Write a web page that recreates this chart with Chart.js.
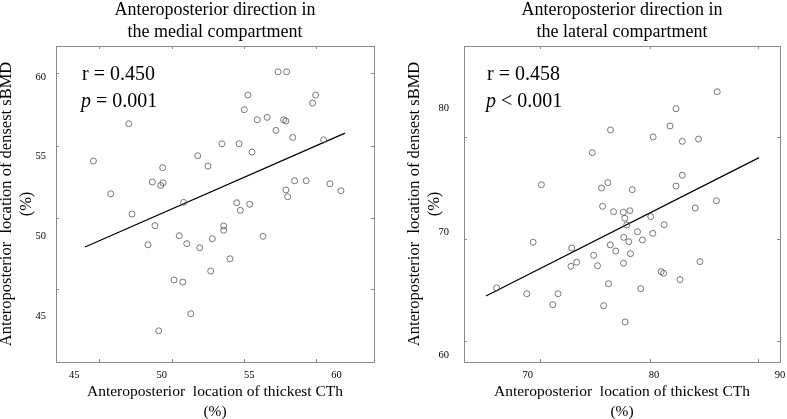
<!DOCTYPE html>
<html>
<head>
<meta charset="utf-8">
<script src="https://cdn.jsdelivr.net/npm/chart.js@4.4.1/dist/chart.umd.min.js"></script>
<style>
  html, body { margin: 0; padding: 0; background: #fff; }
  .wrap { position: relative; width: 787px; height: 419px; overflow: hidden; }
  #medial { position: absolute; left: 0; top: 0; }
  #lateral { position: absolute; left: 393px; top: 0; }
</style>
</head>
<body>
<div class="wrap">
  <canvas id="medial" width="393" height="419"></canvas>
  <canvas id="lateral" width="394" height="419"></canvas>
</div>
<script>
// medial compartment: thickest CTh (x) vs densest sBMD (y), both in %
const medialCTh = [46.09, 47.08, 48.11, 48.30, 49.21, 49.46, 49.61, 49.94, 50.05, 50.07,
  50.70, 51.00, 51.20, 51.25, 51.43, 52.06, 52.17, 52.64, 52.80, 52.89,
  53.44, 53.54, 53.54, 53.90, 54.29, 54.42, 54.49, 54.72, 54.93, 55.03,
  55.16, 55.46, 55.79, 56.03, 56.53, 56.65, 56.97, 57.10, 57.10, 57.14,
  57.20, 57.49, 57.60, 58.26, 58.63, 58.80, 59.26, 59.62, 60.25, 51.66, 49.83];
const medialBMD = [54.73, 52.67, 57.07, 51.40, 49.47, 53.41, 50.67, 53.20, 54.31, 53.36,
  47.26, 50.04, 47.13, 52.13, 49.54, 55.06, 49.28, 54.41, 47.82, 49.85,
  55.81, 50.65, 50.38, 48.59, 52.11, 55.81, 51.63, 57.95, 58.87, 52.01,
  55.29, 57.32, 50.00, 57.47, 56.65, 60.33, 57.32, 57.24, 52.91, 60.33,
  52.49, 56.21, 53.49, 53.49, 58.37, 58.87, 56.06, 53.30, 52.86, 45.14, 44.07];
const medialFitX = [45.61, 60.48];
const medialFitY = [49.33, 56.48];

// lateral compartment
const lateralCTh = [67.53, 69.92, 70.42, 71.08, 72.40, 73.48, 73.42, 73.87, 75.11, 75.22,
  75.53, 75.85, 75.93, 76.35, 76.40, 76.56, 76.54, 76.80, 76.98, 77.57,
  77.69, 77.85, 77.61, 77.59, 78.01, 78.09, 78.14, 78.28, 78.70, 78.96,
  79.09, 79.75, 79.91, 79.94, 80.57, 80.77, 80.81, 81.28, 81.75, 81.75,
  82.07, 82.25, 82.25, 83.28, 83.54, 83.65, 84.96, 85.02, 71.98, 76.01, 77.72];
const lateralBMD = [65.47, 65.00, 69.17, 73.83, 65.00, 68.70, 67.22, 67.55, 76.42, 68.11,
  67.27, 73.56, 72.08, 73.99, 65.81, 78.26, 68.95, 71.64, 68.46, 71.60,
  71.11, 70.57, 69.57, 67.47, 69.21, 71.72, 68.24, 73.43, 70.02, 65.41,
  69.35, 71.24, 69.89, 77.69, 66.79, 66.66, 70.59, 78.58, 79.98, 73.72,
  66.14, 77.34, 74.59, 71.94, 77.53, 67.60, 72.53, 81.36, 64.11, 64.03, 62.71];
const lateralFitX = [66.68, 88.34];
const lateralFitY = [64.82, 76.02];

// tick labels and the (offset) inward tick marks on the frame
const medialXTicks = [45, 50, 55, 60];
const medialYTicks = [45, 50, 55, 60];
const medialXMarks = [46.43, 50.57, 54.69, 58.82];
const medialYMarks = [46.69, 51.15, 55.67, 60.27];
const lateralXTicks = [70, 80, 90];
const lateralYTicks = [60, 70, 80];
const lateralXMarks = [71.0, 79.7, 88.26];
const lateralYMarks = [61.17, 69.43, 77.69];

const SERIF = '"Liberation Serif", "Times New Roman", serif';

const framePlugin = {
  id: 'frame',
  afterDatasetsDraw(chart, args, opts) {
    const { ctx, chartArea: a, scales } = chart;
    ctx.save();
    ctx.strokeStyle = '#8a8a8a';
    ctx.lineWidth = 1;
    ctx.strokeRect(a.left + 0.5, a.top + 0.5, a.right - a.left, a.bottom - a.top);
    ctx.beginPath();
    opts.xMarks.forEach(v => {
      const x = Math.round(scales.x.getPixelForValue(v)) + 0.5;
      ctx.moveTo(x, a.bottom); ctx.lineTo(x, a.bottom - 3);
      ctx.moveTo(x, a.top); ctx.lineTo(x, a.top + 3);
    });
    opts.yMarks.forEach(v => {
      const y = Math.round(scales.y.getPixelForValue(v)) + 0.5;
      ctx.moveTo(a.left, y); ctx.lineTo(a.left + 3, y);
      ctx.moveTo(a.right, y); ctx.lineTo(a.right - 3, y);
    });
    ctx.stroke();

    // r and p values
    ctx.fillStyle = '#000';
    ctx.textBaseline = 'middle';
    ctx.textAlign = 'left';
    ctx.font = '20px ' + SERIF;
    ctx.fillText(opts.r, a.left + opts.dx, a.top + 29);
    ctx.font = 'italic 20px ' + SERIF;
    ctx.fillText('p', a.left + opts.dx - 1, a.top + 56);
    const pw = ctx.measureText('p').width;
    ctx.font = '20px ' + SERIF;
    ctx.fillText(opts.p, a.left + opts.dx - 1 + pw, a.top + 56);
    ctx.restore();
  }
};

function makeChart(id, c) {
  const points = c.xs.map((x, i) => ({ x: x, y: c.ys[i] }));
  const fit = c.fitX.map((x, i) => ({ x: x, y: c.fitY[i] }));
  return new Chart(document.getElementById(id), {
    type: 'scatter',
    data: {
      datasets: [{
        data: points,
        pointRadius: 3,
        pointBorderWidth: 0.8,
        pointBorderColor: '#555',
        pointBackgroundColor: 'rgba(0,0,0,0)'
      }, {
        type: 'line',
        data: fit,
        showLine: true,
        pointRadius: 0,
        borderColor: '#000',
        borderWidth: 1.2
      }]
    },
    options: {
      responsive: false,
      animation: false,
      layout: { padding: { left: c.padLeft, right: c.padRight, top: 0, bottom: 0 } },
      plugins: {
        legend: { display: false },
        tooltip: { enabled: false },
        title: {
          display: true,
          fullSize: false,
          text: c.title,
          color: '#000',
          font: { family: SERIF, size: 18, weight: 'normal', lineHeight: '22px' },
          padding: { top: -1, bottom: 3 }
        },
        frame: { xMarks: c.xMarks, yMarks: c.yMarks, r: c.r, p: c.p, dx: c.dx }
      },
      scales: {
        x: {
          type: 'linear',
          min: c.xMin, max: c.xMax,
          afterBuildTicks: s => { s.ticks = c.xTicks.map(v => ({ value: v })); },
          afterFit: s => { s.height = 57; s.paddingLeft = 0; s.paddingRight = 0; },
          grid: { display: false, drawTicks: false },
          border: { display: false },
          ticks: { padding: 7, color: '#000', maxRotation: 0, autoSkip: false,
                   font: { family: SERIF, size: 10.5 } },
          title: {
            display: true,
            text: ['Anteroposterior  location of thickest CTh', '(%)'],
            color: '#000',
            font: { family: SERIF, size: 15.5, lineHeight: '20px' },
            padding: { top: 0, bottom: -3 }
          }
        },
        y: {
          type: 'linear',
          min: c.yMin, max: c.yMax,
          afterBuildTicks: s => { s.ticks = c.yTicks.map(v => ({ value: v })); },
          afterFit: s => { s.width = c.yWidth; s.paddingTop = 0; s.paddingBottom = 0; },
          grid: { display: false, drawTicks: false },
          border: { display: false },
          ticks: { padding: c.tickPad, color: '#000', autoSkip: false,
                   font: { family: SERIF, size: 10.5 } },
          title: {
            display: true,
            text: ['Anteroposterior  location of densest sBMD', '(%)'],
            color: '#000',
            font: { family: SERIF, size: 16.5, lineHeight: '20px' },
            padding: { top: c.titlePad, bottom: 0 }
          }
        }
      }
    },
    plugins: [framePlugin]
  });
}

makeChart('medial', {
  xs: medialCTh, ys: medialBMD, fitX: medialFitX, fitY: medialFitY,
  xTicks: medialXTicks, yTicks: medialYTicks, xMarks: medialXMarks, yMarks: medialYMarks,
  xMin: 43.95, xMax: 62.14, yMin: 42.11, yMax: 61.95,
  title: ['Anteroposterior direction in', 'the medial compartment'],
  r: 'r = 0.450', p: ' = 0.001', dx: 26,
  padLeft: 0, padRight: 19, yWidth: 56, tickPad: 10, titlePad: -3
});

makeChart('lateral', {
  xs: lateralCTh, ys: lateralBMD, fitX: lateralFitX, fitY: lateralFitY,
  xTicks: lateralXTicks, yTicks: lateralYTicks, xMarks: lateralXMarks, yMarks: lateralYMarks,
  xMin: 64.94, xMax: 90, yMin: 59.47, yMax: 85.06,
  title: ['Anteroposterior direction in', 'the lateral compartment'],
  r: 'r = 0.458', p: ' < 0.001', dx: 23,
  padLeft: 0, padRight: 7, yWidth: 71, tickPad: 15, titlePad: 12
});
</script>
</body>
</html>
